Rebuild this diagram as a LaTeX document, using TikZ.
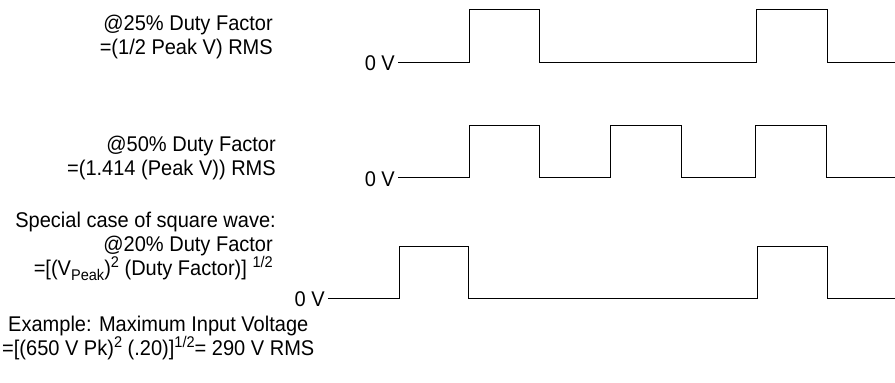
\documentclass[tikz,border=0pt]{standalone}
\usepackage{fontspec}
\setmainfont{Liberation Sans}[FakeStretch=0.94]
\newcommand{\mysup}[1]{\raisebox{0.36em}{\fontsize{15.5}{15.5}\selectfont #1}}
\newcommand{\mysub}[1]{\raisebox{-0.26em}{\fontsize{15.5}{15.5}\selectfont #1}}
\tikzset{
  lbl/.style={inner sep=0pt, font=\fontsize{21.3}{24}\selectfont},
  wave/.style={line width=0.9pt, black, line join=miter}
}
\begin{document}
\begin{tikzpicture}[x=1pt,y=-1pt]
\useasboundingbox (0,0) rectangle (895,383);
% group 1
\node[lbl, anchor=base east] (t1a) at (273,30) {@25\% Duty Factor};
\node[lbl, anchor=base east] (t1b) at (273,54) {=(1/2 Peak V) RMS};
\node[lbl, anchor=base east] (z1) at (395,70) {0 V};
\coordinate (s1) at (398,62);
\draw[wave] (s1) -- (469,62) -- (469,9) -- (539,9) -- (539,62) -- (756,62) -- (756,9) -- (827,9) -- (827,62) -- (895,62);
% group 2
\node[lbl, anchor=base east] (t2a) at (276,151) {@50\% Duty Factor};
\node[lbl, anchor=base east] (t2b) at (276,175) {=(1.414 (Peak V)) RMS};
\node[lbl, anchor=base east] (z2) at (395,186) {0 V};
\coordinate (s2) at (398,177);
\draw[wave] (s2) -- (469,177) -- (469,125) -- (539,125) -- (539,177) -- (610,177) -- (610,125) -- (681,125) -- (681,177) -- (755,177) -- (755,125) -- (826,125) -- (826,177) -- (895,177);
% group 3
\node[lbl, anchor=base east] (t3a) at (276,227) {Special case of square wave:};
\node[lbl, anchor=base east] (t3b) at (273,251) {@20\% Duty Factor};
\node[lbl, anchor=base east] (t3c) at (273,275) {=[(V\mysub{Peak})\mysup{2} (Duty Factor)] \mysup{1/2}};
\node[lbl, anchor=base east] (z3) at (325,306) {0 V};
\coordinate (s3) at (328,298);
\draw[wave] (s3) -- (399,298) -- (399,246) -- (468,246) -- (468,298) -- (757,298) -- (757,246) -- (827,246) -- (827,298) -- (895,298);
% group 4
\node[lbl, anchor=base west] (t4a) at (8,331) {Example: Maximum Input Voltage};
\node[lbl, anchor=base west] (t4b) at (2,355) {=[(650 V Pk)\mysup{2} (.20)]\mysup{1/2}= 290 V RMS};
\end{tikzpicture}
\end{document}
